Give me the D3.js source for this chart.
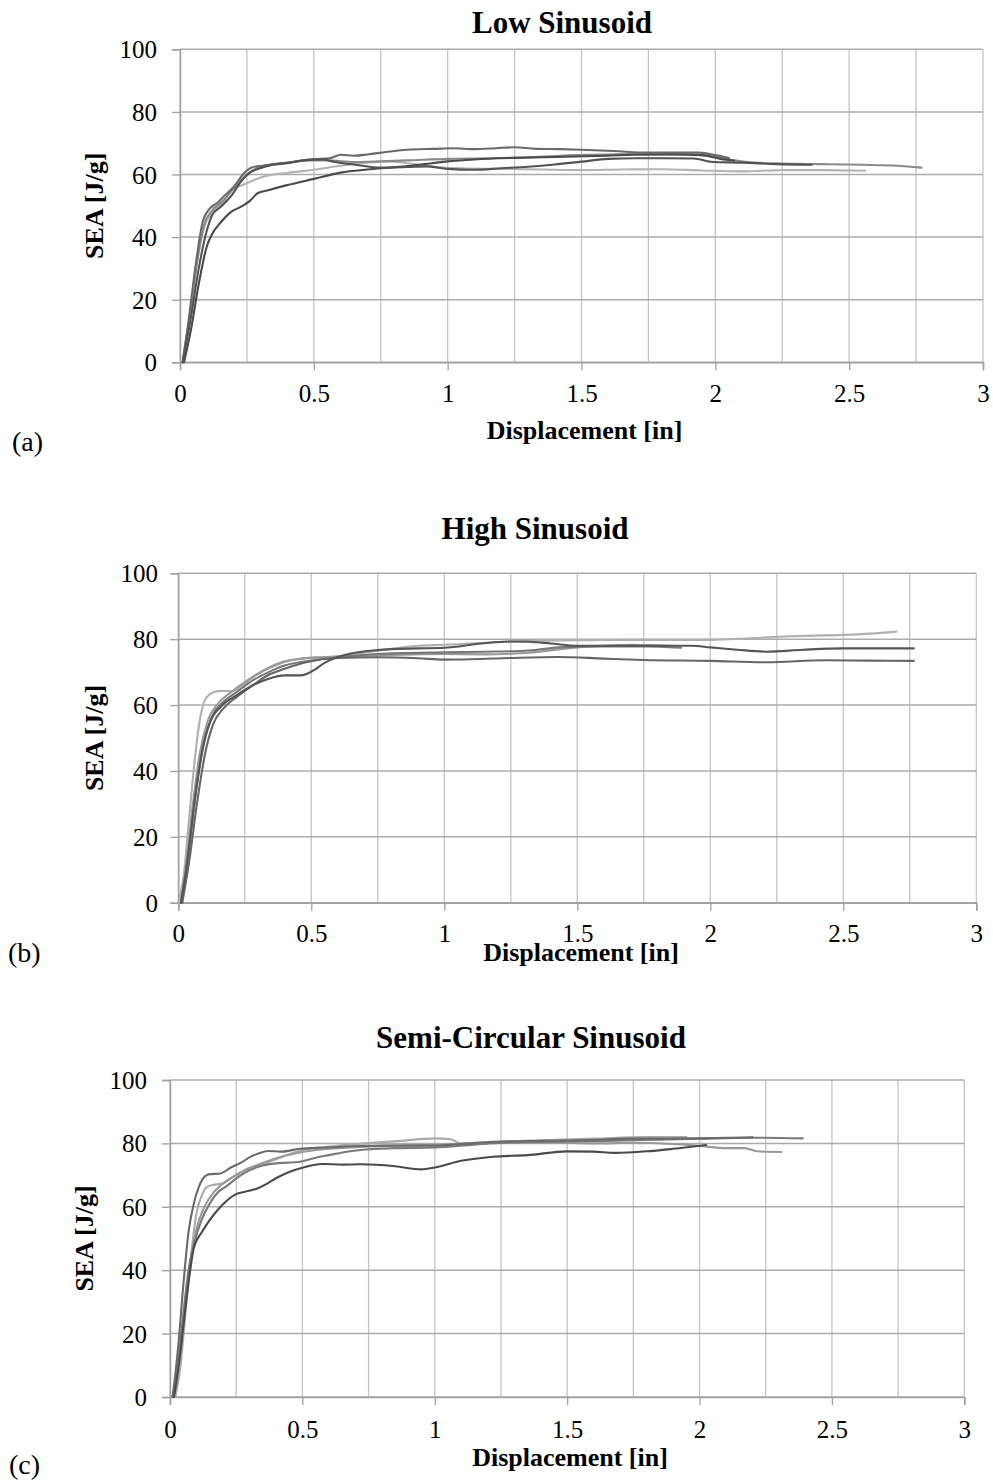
<!DOCTYPE html>
<html><head><meta charset="utf-8">
<script src="https://cdn.jsdelivr.net/npm/d3@7"></script>
<style>
html,body{margin:0;padding:0;background:#fff;}
svg text{font-family:"Liberation Serif","Times New Roman",serif;fill:#000;}
</style></head>
<body>
<svg id="chart" width="993" height="1483"></svg>
<script>
// ---------- DATA ----------
const xTicks = [0, 0.5, 1, 1.5, 2, 2.5, 3];
const xGrid = [0,0.25,0.5,0.75,1,1.25,1.5,1.75,2,2.25,2.5,2.75,3];
const yTicks = [0, 20, 40, 60, 80, 100];
const titles = ["Low Sinusoid", "High Sinusoid", "Semi-Circular Sinusoid"];
const panelLabels = ["(a)", "(b)", "(c)"];
const xLabel = "Displacement [in]";
const yLabel = "SEA [J/g]";

// Panel (a) Low Sinusoid
const lowS1 = [[0.01,0],[0.03,12],[0.06,32],[0.085,45],[0.11,49],[0.14,51],[0.17,53.5],[0.2,56],[0.24,60.5],[0.27,62.3],[0.31,62.8],[0.36,63.4],[0.42,64],[0.5,64.9],[0.56,65.2],[0.6,66.3],[0.65,66],[0.7,66.4],[0.77,67.2],[0.85,67.9],[0.95,68.2],[1.02,68.4],[1.1,68.1],[1.18,68.4],[1.25,68.7],[1.33,68.2],[1.42,68.1],[1.5,67.9],[1.62,67.5],[1.75,67],[1.85,67],[1.94,67],[2.0,66.2],[2.05,65.3]];
const lowS2 = [[0.01,0],[0.04,14],[0.07,30],[0.1,42],[0.12,47],[0.15,49.5],[0.19,53],[0.23,58],[0.26,60.5],[0.3,62],[0.34,63],[0.4,63.6],[0.47,64.6],[0.53,64.8],[0.58,64],[0.65,63.2],[0.75,62.2],[0.85,62.4],[0.92,62.6],[1.0,61.8],[1.1,61.5],[1.2,62],[1.3,62.5],[1.4,63.2],[1.5,64.1],[1.6,65],[1.7,65.2],[1.8,65.2],[1.92,65.1],[1.99,64],[2.1,63.8],[2.23,63.3],[2.36,63.1]];
const lowS3 = [[0.015,0],[0.04,10],[0.07,25],[0.1,37],[0.12,41],[0.15,44.5],[0.19,48],[0.23,49.8],[0.26,51.5],[0.29,54],[0.33,55],[0.4,56.6],[0.5,58.6],[0.6,60.6],[0.7,61.6],[0.8,62.3],[0.9,63.2],[1.0,64.2],[1.1,64.8],[1.25,65.3],[1.4,65.6],[1.55,65.9],[1.7,66.3],[1.85,66.4],[1.95,66.2],[2.02,65],[2.07,64.4]];
const lowS4 = [[0.01,0],[0.035,14],[0.06,30],[0.09,44],[0.12,48.5],[0.16,51.5],[0.2,55.5],[0.25,60],[0.3,62.5],[0.38,63.5],[0.48,64.5],[0.55,64.5],[0.65,64],[0.75,64.2],[0.85,64.5],[1.0,65],[1.15,65.2],[1.3,65.5],[1.42,66],[1.6,66.4],[1.75,66.6],[1.9,66.4],[1.97,66],[2.05,64.8],[2.15,63.8],[2.25,63.5],[2.4,63.3],[2.55,63.1],[2.68,62.8],[2.77,62.2]];
const lowS5 = [[0.01,0],[0.035,14],[0.06,30],[0.09,43],[0.12,48],[0.16,51],[0.2,55.5],[0.23,56.5],[0.27,58],[0.32,59.5],[0.4,60.5],[0.5,61.5],[0.6,62.8],[0.7,63.8],[0.78,64.2],[0.86,63.5],[0.95,62.5],[1.05,62],[1.2,61.8],[1.35,61.6],[1.5,61.4],[1.65,61.6],[1.8,61.7],[1.95,61.3],[2.1,61],[2.25,61.4],[2.4,61.4],[2.56,61.2]];

// Panel (b) High Sinusoid
const highS1 = [[0,0],[0.02,8],[0.04,25],[0.06,42],[0.08,55],[0.1,61.5],[0.13,63.8],[0.16,64.3],[0.2,64.2],[0.24,66],[0.29,69],[0.35,71.5],[0.42,73.5],[0.48,74.3],[0.6,74.8],[0.75,76.5],[0.9,78],[1.0,78.3],[1.25,79.3],[1.5,79.7],[1.75,79.8],[2.0,79.8],[2.15,80.3],[2.3,80.9],[2.5,81.3],[2.6,81.7],[2.7,82.3]];
const highS2 = [[0.01,0],[0.03,10],[0.06,30],[0.09,46],[0.12,55],[0.16,59.5],[0.22,63],[0.28,66],[0.34,68],[0.4,69],[0.46,69],[0.51,70.6],[0.55,72.8],[0.6,74.6],[0.75,76.7],[0.9,77.2],[1.0,77.4],[1.14,78.7],[1.25,79.3],[1.32,79.2],[1.4,78.7],[1.5,78],[1.75,78],[1.93,78],[2.0,77.5],[2.1,76.8],[2.21,76.2],[2.35,76.8],[2.5,77.2],[2.765,77.2]];
const highS3 = [[0.01,0],[0.04,16],[0.07,36],[0.1,50],[0.13,57],[0.17,61],[0.22,64],[0.28,67.5],[0.34,70],[0.4,72],[0.48,73.3],[0.6,74.5],[0.75,75.5],[1.0,76],[1.15,76.2],[1.3,76.5],[1.45,77.6],[1.6,77.8],[1.75,77.8],[1.89,77.4]];
const highS4 = [[0.015,0],[0.04,12],[0.07,30],[0.1,45],[0.13,54],[0.17,59],[0.22,62.5],[0.28,66],[0.34,69.2],[0.4,71],[0.48,73],[0.6,74.3],[0.75,74.5],[0.9,74.2],[1.0,73.8],[1.1,73.9],[1.25,74.3],[1.43,74.6],[1.6,74.1],[1.75,73.7],[2.0,73.4],[2.21,73],[2.43,73.6],[2.6,73.5],[2.765,73.4]];
const highS5 = [[0.01,0],[0.03,12],[0.055,30],[0.08,45],[0.11,55],[0.15,60.5],[0.2,64],[0.26,67.5],[0.32,70.5],[0.38,72.8],[0.45,74],[0.55,74.5],[0.7,75],[0.85,75.3],[1.0,75.5],[1.15,75.4],[1.3,75.8],[1.5,77.5],[1.7,78.3],[1.85,78]];

// Panel (c) Semi-Circular Sinusoid
const semiS1 = [[0.01,0],[0.03,15],[0.05,35],[0.07,52],[0.09,61],[0.11,66.5],[0.13,69.5],[0.15,70.3],[0.19,70.5],[0.23,72.4],[0.27,74],[0.3,75.6],[0.34,77],[0.37,77.6],[0.42,77.4],[0.49,78.3],[0.59,78.7],[0.72,79.2],[0.85,79.3],[1.0,79.3],[1.1,79.8],[1.22,80.5],[1.4,80.8],[1.55,81],[1.75,81.5],[2.0,81.6],[2.2,81.9]];
const semiS2 = [[0.02,0],[0.04,10],[0.06,28],[0.08,45],[0.1,58],[0.12,63.5],[0.14,66.3],[0.17,67],[0.2,67.4],[0.23,69],[0.265,70.5],[0.3,72],[0.34,73.2],[0.4,75],[0.44,76.3],[0.5,77.9],[0.6,79],[0.74,80],[0.87,80.8],[1.0,81.6],[1.06,81.3],[1.1,80],[1.18,80],[1.25,80.5],[1.4,81],[1.6,81.5],[1.8,82],[1.95,82]];
const semiS3 = [[0.015,0],[0.03,8],[0.05,22],[0.07,36],[0.09,47],[0.12,52],[0.15,55.8],[0.18,59],[0.21,61.6],[0.25,64],[0.28,64.7],[0.33,65.8],[0.36,67],[0.4,69],[0.45,71],[0.49,72.1],[0.58,73.5],[0.65,73.3],[0.72,73.4],[0.85,72.8],[0.95,71.8],[1.0,72.4],[1.1,74.5],[1.22,75.8],[1.35,76.3],[1.5,77.5],[1.6,77.4],[1.68,77],[1.8,77.5],[1.9,78.3],[2.025,79.5]];
const semiS4 = [[0.01,0],[0.03,10],[0.05,26],[0.07,40],[0.09,48],[0.12,56],[0.15,61],[0.18,64.5],[0.21,66.3],[0.26,69.5],[0.3,71.5],[0.34,72.8],[0.4,73.7],[0.49,74.2],[0.55,75.5],[0.6,76.3],[0.68,77.5],[0.74,78.1],[0.85,78.5],[1.0,78.7],[1.15,79.6],[1.26,80.2],[1.45,80.5],[1.65,80.8],[1.85,81.2],[2.0,81.5],[2.2,81.8],[2.39,81.6]];
const semiS5 = [[0.01,0],[0.035,12],[0.06,30],[0.08,44],[0.1,53],[0.13,60],[0.17,65],[0.22,68.5],[0.28,71.5],[0.35,73.8],[0.43,76],[0.5,77.3],[0.6,78.3],[0.75,79],[0.9,79.4],[1.0,79.5],[1.15,80],[1.3,80.3],[1.47,80.2],[1.6,80],[1.75,80.2],[1.9,79.8],[2.0,79.2],[2.1,78.5],[2.17,78.5],[2.22,77.5],[2.31,77.3]];

const seriesColors = ["#6a6a6a", "#535353", "#4a4a4a", "#8a8a8a", "#b3b3b3"];
const seriesColorsB = ["#b0b0b0", "#555555", "#777777", "#666666", "#999999"];
const seriesColorsC = ["#6a6a6a", "#aaaaaa", "#4a4a4a", "#7a7a7a", "#999999"];

// ---------- LAYOUT ----------
const panels = [
  {series:[lowS5, lowS4, lowS1, lowS3, lowS2], colors:[seriesColors[4],seriesColors[3],seriesColors[0],seriesColors[2],seriesColors[1]],
   left:180, right:983, top:49.3, bottom:362.3, titleX:562, titleY:33,
   xlabX:584.5, xlabY:439, ylabX:103, tickY:40, yTickRight:157, plabX:12, plabY:451},
  {series:[highS1, highS5, highS3, highS4, highS2], colors:[seriesColorsB[0],seriesColorsB[4],seriesColorsB[2],seriesColorsB[3],seriesColorsB[1]],
   left:178.3, right:976.3, top:573.3, bottom:902.7, titleX:535, titleY:539,
   xlabX:581, xlabY:961, ylabX:103, tickY:39, yTickRight:158, plabX:8, plabY:962},
  {series:[semiS2, semiS5, semiS4, semiS1, semiS3], colors:[seriesColorsC[1],seriesColorsC[4],seriesColorsC[3],seriesColorsC[0],seriesColorsC[2]],
   left:170, right:964.3, top:1080, bottom:1397, titleX:531, titleY:1048,
   xlabX:570, xlabY:1466, ylabX:93, tickY:41, yTickRight:147, plabX:9, plabY:1474}
];

const svg = d3.select("#chart");

panels.forEach((p, i) => {
  const x = d3.scaleLinear().domain([0, 3]).range([p.left, p.right]);
  const y = d3.scaleLinear().domain([0, 100]).range([p.bottom, p.top]);
  const g = svg.append("g");

  // vertical gridlines
  g.selectAll("line.vg").data(xGrid).join("line")
    .attr("x1", d => x(d)).attr("x2", d => x(d))
    .attr("y1", p.top).attr("y2", p.bottom)
    .attr("stroke", "#c4c4c4").attr("stroke-width", 1.3);
  // horizontal gridlines
  g.selectAll("line.hg").data(yTicks).join("line")
    .attr("x1", p.left).attr("x2", p.right)
    .attr("y1", d => y(d)).attr("y2", d => y(d))
    .attr("stroke", "#ababab").attr("stroke-width", 1.5);

  // axes
  const xAxis = d3.axisBottom(x).tickValues(xTicks).tickSize(8).tickFormat(d3.format("~g"));
  const gx = g.append("g").attr("transform", `translate(0,${p.bottom})`).call(xAxis);
  gx.select(".domain").attr("stroke", "#a0a0a0").attr("stroke-width", 1.5);
  gx.selectAll(".tick line").attr("stroke", "#a0a0a0").attr("stroke-width", 1.3);
  gx.selectAll(".tick text").attr("y", p.tickY).attr("dy", null)
    .style("font-size", "25px").style("font-family", "'Liberation Serif','Times New Roman',serif").attr("fill", "#000");

  const yAxis = d3.axisLeft(y).tickValues(yTicks).tickSize(8);
  const gy = g.append("g").attr("transform", `translate(${p.left},0)`).call(yAxis);
  gy.select(".domain").attr("stroke", "#a0a0a0").attr("stroke-width", 1.5);
  gy.selectAll(".tick line").attr("stroke", "#a0a0a0").attr("stroke-width", 1.3);
  gy.selectAll(".tick text").attr("x", p.yTickRight - p.left).attr("dy", "0.34em")
    .style("font-size", "25px").style("font-family", "'Liberation Serif','Times New Roman',serif").attr("fill", "#000");

  // series
  const line = d3.line().x(d => x(d[0])).y(d => y(d[1])).curve(d3.curveMonotoneX);
  p.series.forEach((s, k) => {
    g.append("path").datum(s).attr("d", line)
      .attr("fill", "none").attr("stroke", p.colors[k])
      .attr("stroke-width", 2.1).attr("stroke-linejoin", "round").attr("stroke-linecap", "round");
  });

  // texts
  g.append("text").attr("x", p.titleX).attr("y", p.titleY).attr("text-anchor", "middle")
    .style("font-size", "31px").style("font-weight", "bold").text(titles[i]);
  g.append("text").attr("x", p.xlabX).attr("y", p.xlabY).attr("text-anchor", "middle")
    .style("font-size", "26px").style("font-weight", "bold").text(xLabel);
  g.append("text").attr("transform", `translate(${p.ylabX},${(p.top + p.bottom) / 2}) rotate(-90)`)
    .attr("text-anchor", "middle").style("font-size", "26px").style("font-weight", "bold").text(yLabel);
  g.append("text").attr("x", p.plabX).attr("y", p.plabY)
    .style("font-size", "28px").text(panelLabels[i]);
});
</script>
</body></html>
